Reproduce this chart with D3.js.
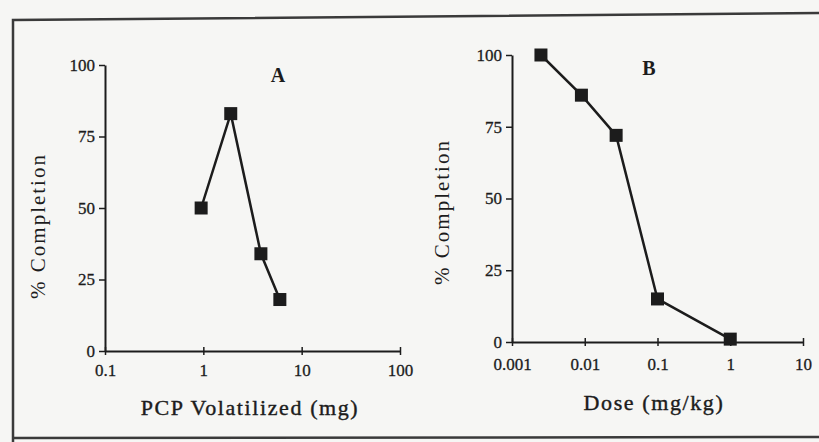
<!DOCTYPE html>
<html>
<head>
<meta charset="utf-8">
<script src="https://cdn.jsdelivr.net/npm/d3@7"></script>
<style>
  body { margin: 0; background: #f6f6f4; }
  svg { display: block; }
  text { font-family: "Liberation Serif", "DejaVu Serif", serif; fill: #1c1c1c; }
</style>
</head>
<body>
<div id="chart"></div>
<script>
// panel A: PCP volatilized vs % completion
const volatilizedMg = [0.95, 1.9, 3.85, 6.0];
const completionA = [50, 83, 34, 18];
const xTicksA = [0.1, 1, 10, 100];
const xTickLabelsA = ["0.1", "1", "10", "100"];

// panel B: dose vs % completion
const doseMgKg = [0.0025, 0.009, 0.027, 0.1, 1.0];
const completionB = [100, 86, 72, 15, 1];
const xTicksB = [0.001, 0.01, 0.1, 1, 10];
const xTickLabelsB = ["0.001", "0.01", "0.1", "1", "10"];

const yTicks = [0, 25, 50, 75, 100];

const width = 819, height = 442;
const ink = "#1c1c1c";
const svg = d3.select("#chart").append("svg")
    .attr("width", width)
    .attr("height", height);

svg.append("rect")
    .attr("x", 0).attr("y", 0)
    .attr("width", width).attr("height", height)
    .attr("fill", "#f6f6f4");

// scanned frame, top edge a bit skewed
svg.append("path")
    .attr("d", "M13,442 L13,20 L819,13")
    .attr("fill", "none")
    .attr("stroke", "#3a3a3a")
    .attr("stroke-width", 2.5);
svg.append("line")
    .attr("x1", 13).attr("x2", 819)
    .attr("y1", 438).attr("y2", 437)
    .attr("stroke", "#3a3a3a")
    .attr("stroke-width", 2.5);

function drawPanel(cfg) {
  const x = d3.scaleLog().domain(cfg.xDomain).range([cfg.left, cfg.right]);
  const y = d3.scaleLinear().domain([0, 100]).range([cfg.bottom, cfg.top]);
  const g = svg.append("g");

  const xAxis = g.append("g")
      .attr("transform", "translate(0," + cfg.bottom + ")")
      .call(d3.axisBottom(x)
        .tickValues(cfg.xTicks)
        .tickFormat((d, i) => cfg.xLabels[i])
        .tickSize(4)
        .tickPadding(cfg.xPad)
        .tickSizeOuter(0));
  xAxis.select(".domain").attr("stroke", ink).attr("stroke-width", 2);
  xAxis.selectAll(".tick line")
      .attr("y1", -4)
      .attr("stroke", ink).attr("stroke-width", 1.5);
  xAxis.selectAll(".tick text")
      .attr("font-size", 17)
      .attr("fill", ink)
      .attr("stroke", ink).attr("stroke-width", 0.3)
      .style("font-family", "Liberation Serif, serif");

  const yAxis = g.append("g")
      .attr("transform", "translate(" + cfg.left + ",0)")
      .call(d3.axisLeft(y)
        .tickValues(yTicks)
        .tickSize(6)
        .tickPadding(4)
        .tickSizeOuter(0));
  yAxis.select(".domain").attr("stroke", ink).attr("stroke-width", 2);
  yAxis.selectAll(".tick line").attr("stroke", ink).attr("stroke-width", 1.5);
  yAxis.selectAll(".tick text")
      .attr("font-size", 17)
      .attr("fill", ink)
      .attr("stroke", ink).attr("stroke-width", 0.3)
      .style("font-family", "Liberation Serif, serif");

  const line = d3.line()
      .x(d => x(d[0]))
      .y(d => y(d[1]));
  const pts = cfg.xs.map((v, i) => [v, cfg.ys[i]]);

  g.append("path")
      .datum(pts)
      .attr("d", line)
      .attr("fill", "none")
      .attr("stroke", ink)
      .attr("stroke-width", 2.5);

  g.selectAll("rect.pt")
      .data(pts)
      .join("rect")
      .attr("class", "pt")
      .attr("x", d => x(d[0]) - 6.5)
      .attr("y", d => y(d[1]) - 6.5)
      .attr("width", 13)
      .attr("height", 13)
      .attr("fill", ink);

  g.append("text")
      .attr("x", cfg.letterX)
      .attr("y", cfg.letterY)
      .attr("text-anchor", "middle")
      .attr("font-size", 20)
      .attr("font-weight", "bold")
      .text(cfg.letter);

  g.append("text")
      .attr("x", cfg.xTitleX)
      .attr("y", cfg.xTitleY)
      .attr("text-anchor", "middle")
      .attr("font-size", 22)
      .attr("letter-spacing", 1.6)
      .attr("stroke", ink).attr("stroke-width", 0.4)
      .text(cfg.xTitle);

  g.append("text")
      .attr("transform", "translate(" + cfg.yTitleX + "," + cfg.yTitleY + ") rotate(-90)")
      .attr("text-anchor", "middle")
      .attr("font-size", 21)
      .attr("letter-spacing", 2)
      .text("% Completion");
}

drawPanel({
  xDomain: [0.1, 100], left: 105, right: 400, top: 65, bottom: 351,
  xTicks: xTicksA, xLabels: xTickLabelsA, xPad: 9,
  xs: volatilizedMg, ys: completionA,
  letter: "A", letterX: 278, letterY: 82,
  xTitle: "PCP Volatilized (mg)", xTitleX: 250, xTitleY: 415,
  yTitleX: 45, yTitleY: 226
});

drawPanel({
  xDomain: [0.001, 10], left: 512, right: 803, top: 55, bottom: 342,
  xTicks: xTicksB, xLabels: xTickLabelsB, xPad: 12,
  xs: doseMgKg, ys: completionB,
  letter: "B", letterX: 649, letterY: 75,
  xTitle: "Dose (mg/kg)", xTitleX: 654, xTitleY: 410,
  yTitleX: 449, yTitleY: 212
});
</script>
</body>
</html>
